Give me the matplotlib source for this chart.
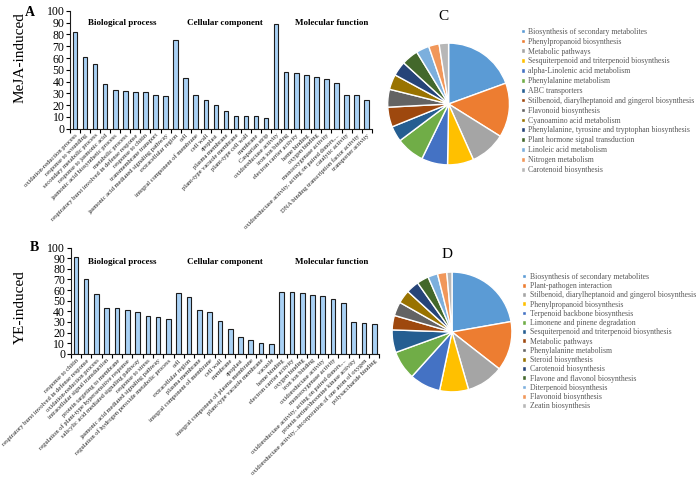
import numpy as np
import matplotlib
matplotlib.use("Agg")
import matplotlib.pyplot as plt

plt.rcParams['font.family'] = ['Liberation Serif', 'DejaVu Serif']

# ---- GO enrichment, MeJA-induced (panel A)
bp_a_terms = ['oxidation-reduction process', 'response to wounding', 'secondary metabolic process',
              'response to jasmonic acid', 'jasmonic acid biosynthetic process', 'metabolic process',
              'respiratory burst involved in defense response', 'response to chitin',
              'transmembrane transport', 'jasmonic acid mediated signaling pathway']
bp_a_vals = [82, 61, 55, 38, 33, 32, 31, 31, 29, 28]
cc_a_terms = ['extracellular region', 'cell', 'integral component of membrane', 'cell wall',
              'apoplast', 'plasma membrane', 'plant-type vacuole membrane', 'plant-type cell wall',
              'membrane', 'Casparian strip']
cc_a_vals = [75, 43, 29, 24, 20, 15, 11, 11, 11, 9]
mf_a_terms = ['oxidoreductase activity', 'iron ion binding', 'electron carrier activity',
              'heme binding', 'oxygen binding', 'monooxygenase activity',
              'oxidoreductase activity, acting on paired donors,...', 'catalytic activity',
              'DNA binding transcription factor activity', 'transporter activity']
mf_a_vals = [89, 48, 47, 46, 44, 42, 39, 29, 29, 24]

# ---- GO enrichment, YE-induced (panel B)
bp_b_terms = ['response to chitin', 'respiratory burst involved in defense response',
              'oxidation-reduction process', 'intracellular signal transduction',
              'protein targeting to membrane', 'regulation of plant-type hypersensitive response',
              'salicylic acid mediated signaling pathway', 'response to stress',
              'jasmonic acid mediated signaling pathway',
              'regulation of hydrogen peroxide metabolic process']
bp_b_vals = [91, 70, 56, 43, 43, 41, 39, 36, 35, 33]
cc_b_terms = ['cell', 'extracellular region', 'plasma membrane', 'integral component of membrane',
              'cell wall', 'membrane', 'apoplast', 'integral component of plasma membrane',
              'plant-type vacuole membrane', 'vacuole']
cc_b_vals = [57, 53, 41, 39, 31, 23, 16, 13, 10, 9]
mf_b_terms = ['heme binding', 'electron carrier activity', 'oxygen binding', 'iron ion binding',
              'oxidoreductase activity', 'monooxygenase activity',
              'oxidoreductase activity, acting on paired donors,...',
              'protein serine/threonine kinase activity',
              'oxidoreductase activity...incorporation of one atom of oxygen',
              'polysaccharide binding']
mf_b_vals = [58, 58, 57, 55, 54, 52, 48, 30, 29, 28]

# ---- KEGG pathways (panels C, D)
kegg_c_terms = ['Biosynthesis of secondary metabolites', 'Phenylpropanoid biosynthesis',
                'Metabolic pathways', 'Sesquiterpenoid and triterpenoid biosynthesis',
                'alpha-Linolenic acid metabolism', 'Phenylalanine metabolism', 'ABC transporters',
                'Stilbenoid, diarylheptanoid and gingerol biosynthesis', 'Flavonoid biosynthesis',
                'Cyanoamino acid metabolism',
                'Phenylalanine, tyrosine and tryptophan biosynthesis',
                'Plant hormone signal transduction', 'Linoleic acid metabolism',
                'Nitrogen metabolism', 'Carotenoid biosynthesis']
kegg_c_vals = [70, 52, 34, 25, 25, 27, 15, 19, 17, 14.5, 14, 16, 12.5, 10, 9]
kegg_d_terms = ['Biosynthesis of secondary metabolites', 'Plant-pathogen interaction',
                'Stilbenoid, diarylheptanoid and gingerol biosynthesis',
                'Phenylpropanoid biosynthesis', 'Terpenoid backbone biosynthesis',
                'Limonene and pinene degradation', 'Sesquiterpenoid and triterpenoid biosynthesis',
                'Metabolic pathways', 'Phenylalanine metabolism', 'Steroid biosynthesis',
                'Carotenoid biosynthesis', 'Flavone and flavonol biosynthesis',
                'Diterpenoid biosynthesis', 'Flavonoid biosynthesis', 'Zeatin biosynthesis']
kegg_d_vals = [80, 48, 36, 28, 30, 28, 22, 14, 13.5, 13, 12.5, 11.5, 9.5, 9, 5]

pie_colors = ['#5B9BD5', '#ED7D31', '#A5A5A5', '#FFC000', '#4472C4', '#70AD47', '#255E91',
              '#9E480E', '#636363', '#997300', '#264478', '#43682B', '#7CAFDD', '#F1975A',
              '#B7B7B7']
groups = ['Biological process', 'Cellular component', 'Molecular function']

fig = plt.figure(figsize=(7, 4.97), dpi=100)


def go_bars(rect, terms, vals, head_x, head_y):
    ax = fig.add_axes(rect)
    x = np.arange(len(vals))
    ax.bar(x, vals, width=0.45, color='#a9d1f5', edgecolor='#1c1c1c', linewidth=0.8)
    ax.set_xlim(-0.5, len(vals) - 0.5)
    ax.set_ylim(0, 100)
    ax.set_yticks(range(0, 101, 10))
    ax.tick_params(axis='y', labelsize=8.5, length=3, width=0.8, pad=1)
    ax.set_xticks(x)
    ax.set_xticklabels(terms, rotation=45, ha='right', rotation_mode='anchor',
                       fontsize=4.65, color='#222222')
    ax.tick_params(axis='x', which='major', length=0, pad=3)
    ax.set_xticks(np.arange(-0.5, len(vals), 1), minor=True)
    ax.tick_params(axis='x', which='minor', length=3, width=0.8)
    for s in ['top', 'right']:
        ax.spines[s].set_visible(False)
    for s in ['left', 'bottom']:
        ax.spines[s].set_linewidth(0.8)
        ax.spines[s].set_color('#1c1c1c')
    for g, hx in zip(groups, head_x):
        ax.text(hx, head_y, g, ha='center', va='center', fontsize=6.5, fontweight='bold')
    return ax


go_bars([0.1, 0.741, 0.431, 0.237], bp_a_terms + cc_a_terms + mf_a_terms,
        bp_a_vals + cc_a_vals + mf_a_vals, [4.7, 14.9, 25.5], 90)
go_bars([0.101, 0.288, 0.441, 0.214], bp_b_terms + cc_b_terms + mf_b_terms,
        bp_b_vals + cc_b_vals + mf_b_vals, [4.5, 14.5, 24.9], 86)


def kegg_pie(rect, terms, vals, leg_xy, spacing):
    ax = fig.add_axes(rect)
    wedges, _ = ax.pie(vals, colors=pie_colors, startangle=90, counterclock=False,
                       wedgeprops=dict(edgecolor='white', linewidth=1.0))
    ax.set_xlim(-1.01, 1.01)
    ax.set_ylim(-1.01, 1.01)
    ax.set_aspect('equal')
    ax.axis('off')
    fig.legend(wedges, terms, loc='upper left', bbox_to_anchor=leg_xy,
               bbox_transform=fig.transFigure, frameon=False, fontsize=5.6,
               handlelength=0.55, handleheight=0.55, handletextpad=0.4,
               labelspacing=spacing, borderpad=0, borderaxespad=0, labelcolor='#595959')


kegg_pie([0.553, 0.667, 0.1757, 0.2475], kegg_c_terms, kegg_c_vals, (0.744, 0.944), 0.24)
kegg_pie([0.5593, 0.2103, 0.1729, 0.2435], kegg_d_terms, kegg_d_vals, (0.746, 0.451), 0.16)

# panel letters and row labels
fig.text(0.043, 0.974, 'A', fontsize=10, fontweight='bold', ha='center', va='center')
fig.text(0.049, 0.503, 'B', fontsize=10, fontweight='bold', ha='center', va='center')
fig.text(0.634, 0.966, 'C', fontsize=11, ha='center', va='center')
fig.text(0.639, 0.487, 'D', fontsize=11, ha='center', va='center')
fig.text(0.029, 0.885, 'MeJA-induced', fontsize=11, rotation=90, ha='center', va='center')
fig.text(0.029, 0.383, 'YE-induced', fontsize=11, rotation=90, ha='center', va='center')

fig.savefig('out.png', dpi=100)
